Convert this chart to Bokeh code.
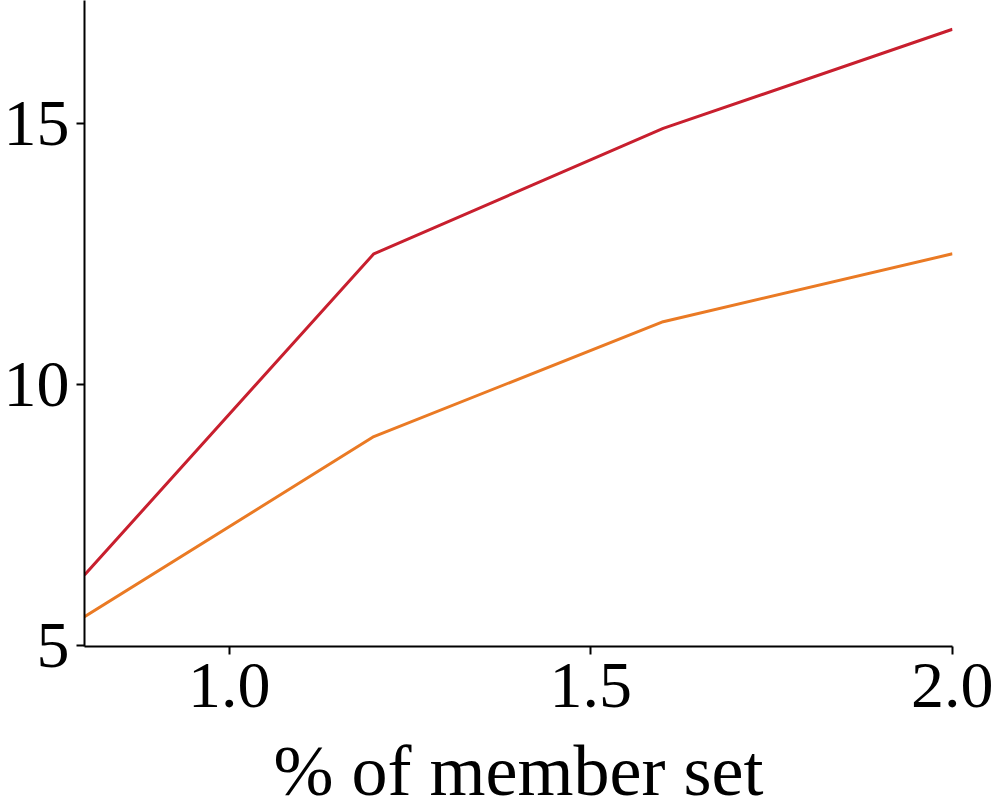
from bokeh.plotting import figure
from bokeh.models import FixedTicker, PrintfTickFormatter, Range1d
from bokeh.embed import file_html
from bokeh.resources import INLINE

x_vals = [0.8, 1.2, 1.6, 2.0]
red_vals = [6.35, 12.5, 14.9, 16.8]
orange_vals = [5.55, 9.0, 11.2, 12.5]
x_ticks = [1.0, 1.5, 2.0]
y_ticks = [5, 10, 15]
x_label = "% of member set"

FONT = "Liberation Serif"

p = figure(
    width=990, height=808,
    frame_width=868, frame_height=646,
    min_border_left=81, min_border_right=41, min_border_top=0, min_border_bottom=162,
    x_range=Range1d(0.8, 2.0), y_range=Range1d(4.98, 17.35),
    output_backend="svg", toolbar_location=None,
)
p.outline_line_color = None
p.grid.visible = False
p.background_fill_color = "white"
p.border_fill_color = "white"

p.line(x_vals, red_vals, line_color="#c81f2e", line_width=3)
p.line(x_vals, orange_vals, line_color="#ea7a24", line_width=3)

for ax in (p.xaxis[0], p.yaxis[0]):
    ax.axis_line_width = 2
    ax.axis_line_color = "black"
    ax.major_tick_line_width = 2
    ax.major_tick_out = 8
    ax.major_tick_in = 0
    ax.minor_tick_line_color = None
    ax.major_label_text_font = FONT
    ax.major_label_text_color = "black"
    ax.major_label_text_font_size = "66px"

p.xaxis.ticker = FixedTicker(ticks=x_ticks)
p.yaxis.ticker = FixedTicker(ticks=y_ticks)
p.xaxis.formatter = PrintfTickFormatter(format="%.1f")
p.yaxis.formatter = PrintfTickFormatter(format="%d")
p.xaxis.major_label_standoff = 9
p.yaxis.major_label_standoff = 7
p.xaxis.axis_label = x_label
p.xaxis.axis_label_text_font = FONT
p.xaxis.axis_label_text_font_size = "72px"
p.xaxis.axis_label_text_font_style = "normal"
p.xaxis.axis_label_text_color = "black"
p.xaxis.axis_label_standoff = 21

open("out.html", "w").write(file_html(p, INLINE))
